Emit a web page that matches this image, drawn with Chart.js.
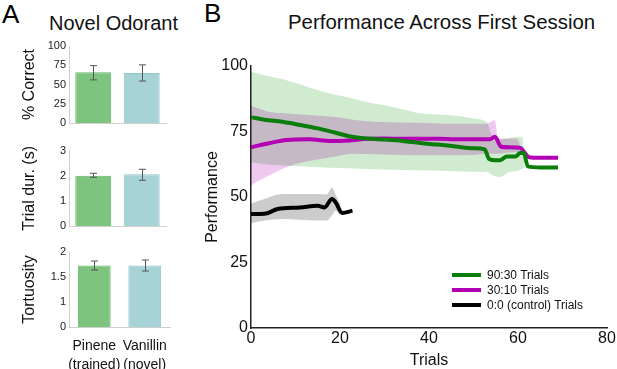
<!DOCTYPE html>
<html>
<head>
<meta charset="utf-8">
<script src="https://cdn.jsdelivr.net/npm/chart.js@4.4.0/dist/chart.umd.min.js"></script>
<style>
  body { margin: 0; width: 617px; height: 369px; position: relative; overflow: hidden; background: #fff;
         font-family: "Liberation Sans", Arial, sans-serif; color: #111; }
  .abs { position: absolute; white-space: nowrap; line-height: 1; }
  .panel { font-size: 26px; color: #000; }
  .title { font-size: 20px; color: #111; }
  .box { position: absolute; }
  #legend { position: absolute; left: 452px; top: 267px; font-size: 12px; color: #111; }
  #legend .row { height: 15px; display: flex; align-items: center; }
  #legend .swatch { width: 29px; height: 4px; margin-right: 6px; }
</style>
</head>
<body>
<div class="abs panel" style="left:2px; top:1px;">A</div>
<div class="abs title" style="left:49px; top:13px;">Novel Odorant</div>
<div class="abs panel" style="left:204px; top:0px;">B</div>
<div class="abs title" style="left:288px; top:12px; font-size:20.4px;">Performance Across First Session</div>

<div class="box" style="left:0; top:36px;"><canvas id="correctChart" width="172" height="100"></canvas></div>
<div class="box" style="left:0; top:140px;"><canvas id="durChart" width="172" height="100"></canvas></div>
<div class="box" style="left:0; top:242px;"><canvas id="tortChart" width="176" height="127"></canvas></div>
<div class="box" style="left:195px; top:40px;"><canvas id="perfChart" width="422" height="329"></canvas></div>
<div id="legend"></div>

<script>
// Panel A data
const odorants = [['Pinene', '(trained)'], ['Vanillin', '(novel)']];
const pctCorrect = [66, 65];
const pctCorrectLo = [56, 54.5];
const pctCorrectHi = [74.5, 75.5];
const trialDur = [2.0, 2.06];
const trialDurLo = [1.94, 1.82];
const trialDurHi = [2.1, 2.26];
const tortuosity = [1.73, 1.73];
const tortuosityLo = [1.64, 1.62];
const tortuosityHi = [1.82, 1.84];

// Panel B data
const seriesLabels = ['90:30 Trials', '30:10 Trials', '0:0 (control) Trials'];
const greenTrials = [0, 3, 7, 11, 15, 19, 22, 26, 30, 34, 38, 42, 46, 50, 52.5, 53.5, 55, 56, 57.5, 59.5, 60.5, 61.3, 62.2, 65, 69];
const greenMean = [80.5, 79.5, 78.7, 77.5, 76.2, 74.5, 73.2, 72.3, 71.9, 71.4, 70.6, 70, 69.3, 68.6, 68.2, 64.5, 64, 64, 65.5, 65.5, 66.8, 66.8, 61.7, 61.3, 61.3];
const magentaTrials = [0, 4, 8, 13, 18, 22, 26, 30, 34, 38, 42, 46, 50, 53.7, 54.8, 56.2, 58, 60.4, 62.5, 65, 69];
const magentaMean = [69, 70.5, 71.8, 72, 71.4, 71.6, 72.2, 72.3, 72.2, 72.2, 72.2, 72, 72, 72, 73, 69.2, 69, 68.8, 65.2, 65, 65];
const controlTrials = [0, 3, 6, 11, 15, 16.5, 18.2, 19, 20.5, 22.8];
const controlMean = [43.5, 43.6, 45.4, 46, 46.7, 46, 49.2, 48, 43.9, 44.8];

const greenBandTrials = [0, 3, 7, 12, 17.5, 22, 26, 30, 34, 38, 42, 46, 50, 53, 54, 56, 58, 60, 61, 61.5];
const greenUpper = [97.8, 96.5, 95, 92.5, 89.6, 88, 86.3, 85, 83.5, 82, 81.5, 81, 80, 78.5, 74, 72, 72.5, 73, 73, 62];
const greenLower = [63.4, 62.5, 62, 61.6, 61.2, 61, 60.7, 60.5, 60.3, 60.2, 60, 59.8, 59.6, 59.5, 58.5, 57.6, 59.5, 60, 60.8, 61];
const magentaBandTrials = [0, 1.5, 4, 9, 14, 19, 23, 28, 34, 38, 44, 50, 53, 54.8, 55.5, 58, 59.7, 60.4];
const magentaUpper = [84.7, 84, 82.5, 81.8, 81.2, 80.5, 79.5, 78.7, 78.4, 78.3, 78, 78, 78, 79.3, 72.3, 72.3, 72.3, 70.6];
const magentaLower = [54.4, 56, 58.2, 62, 64, 65.5, 66.5, 66.3, 66, 65.9, 65.9, 66, 66.5, 66.5, 66.5, 67, 67.2, 67.2];
const controlBandTrials = [0, 3, 7, 11, 15, 17, 18.2, 19, 20];
const controlUpper = [47.4, 49.2, 51.1, 51.1, 51.1, 51, 53.5, 51, 47.5];
const controlLower = [40, 41, 41.6, 41.3, 41, 41, 43, 44.8, 43];

const perfTicks = [0, 25, 50, 75, 100];
const trialTicks = [0, 20, 40, 60, 80];

Chart.defaults.font.family = '"Liberation Sans", Arial, sans-serif';
Chart.defaults.color = '#111';
Chart.defaults.animation = false;

const barColors = ['#7dc47f', '#a8d3d6'];
const barBorders = ['#66b369', '#93c4c8'];

// Error bars drawn from each dataset's errLo / errHi arrays
const errorBars = {
    id: 'errorBars',
    afterDatasetsDraw(chart) {
        const ctx = chart.ctx;
        const y = chart.scales.y;
        chart.data.datasets.forEach((ds, di) => {
            if (!ds.errLo) return;
            const meta = chart.getDatasetMeta(di);
            ctx.save();
            ctx.strokeStyle = '#555';
            ctx.lineWidth = 1;
            meta.data.forEach((bar, i) => {
                const top = y.getPixelForValue(ds.errHi[i]);
                const bot = y.getPixelForValue(ds.errLo[i]);
                const x = Math.round(bar.x) + 0.5;
                ctx.beginPath();
                ctx.moveTo(x, top); ctx.lineTo(x, bot);
                ctx.moveTo(x - 3.5, top); ctx.lineTo(x + 3.5, top);
                ctx.moveTo(x - 3.5, bot); ctx.lineTo(x + 3.5, bot);
                ctx.stroke();
            });
            ctx.restore();
        });
    }
};

function miniBarChart(id, values, lo, hi, yTitle, yScale, layout, showLabels, barPct) {
    const ctx = document.getElementById(id).getContext('2d');
    return new Chart(ctx, {
        type: 'bar',
        data: {
            labels: odorants,
            datasets: [{
                data: values,
                errLo: lo,
                errHi: hi,
                backgroundColor: barColors,
                borderColor: barBorders,
                borderWidth: 1,
                barPercentage: barPct,
                categoryPercentage: 1
            }]
        },
        options: {
            responsive: false,
            layout: { padding: layout },
            plugins: { legend: { display: false }, tooltip: { enabled: false } },
            scales: {
                x: {
                    grid: { display: false },
                    border: { display: true, color: '#cfcfcf', width: 1 },
                    ticks: {
                        display: showLabels,
                        font: { size: 14, lineHeight: 1.35 },
                        color: '#111',
                        padding: 2,
                        maxRotation: 0,
                        autoSkip: false
                    },
                    afterFit(scale) { scale.height = showLabels ? 42 : 0; }
                },
                y: Object.assign({
                    grid: { display: false, drawTicks: false },
                    border: { display: true, color: '#cfcfcf', width: 1 },
                    title: { display: true, text: yTitle, font: { size: 16 }, color: '#111', padding: { top: 20 } },
                    afterFit(scale) { scale.width = 69; }
                }, yScale)
            }
        },
        plugins: [errorBars]
    });
}

miniBarChart('correctChart', pctCorrect, pctCorrectLo, pctCorrectHi, '% Correct',
    { min: 0, max: 100, ticks: { stepSize: 25, font: { size: 11 }, color: '#222', padding: 3 } },
    { top: 10, bottom: 13, right: 6, left: 0 }, false, 0.74);

miniBarChart('durChart', trialDur, trialDurLo, trialDurHi, 'Trial dur. (s)',
    { min: 0, max: 3, ticks: { stepSize: 1, font: { size: 11 }, color: '#222', padding: 3 } },
    { top: 10.7, bottom: 14, right: 6, left: 0 }, false, 0.74);

// broken axis in the original: bottom tick is labelled 0
miniBarChart('tortChart', tortuosity, tortuosityLo, tortuosityHi, 'Tortuosity',
    { min: 0.5, max: 2, ticks: { stepSize: 0.5, font: { size: 11 }, color: '#222', padding: 3,
        callback: v => v === 0.5 ? '0' : v } },
    { top: 10, bottom: 0, right: 6, left: 0 }, true, 0.65);

// Panel B
function pts(xs, ys) {
    return xs.map((x, i) => ({ x: x, y: ys[i] }));
}

function meanLine(label, xs, ys, color) {
    return {
        label: label,
        data: pts(xs, ys),
        borderColor: color,
        backgroundColor: color,
        borderWidth: 4,
        pointRadius: 0,
        fill: false,
        cubicInterpolationMode: 'monotone',
        borderJoinStyle: 'round'
    };
}

function bandEdge(xs, ys, fillColor, isUpper) {
    return {
        label: '',
        data: pts(xs, ys),
        borderWidth: 0,
        borderColor: 'rgba(0,0,0,0)',
        backgroundColor: fillColor,
        pointRadius: 0,
        fill: isUpper ? '+1' : false,
        cubicInterpolationMode: 'monotone'
    };
}

const lineColors = ['#0b7d0b', '#b400b4', '#000000'];

// the shaded bands overlap like ink: multiply them, then draw the mean lines normally
const bandBlend = {
    id: 'bandBlend',
    beforeDatasetsDraw(chart) { chart.ctx.globalCompositeOperation = 'multiply'; },
    afterDatasetDraw(chart, args) {
        if (args.index === 3) chart.ctx.globalCompositeOperation = 'source-over';
    },
    afterDatasetsDraw(chart) { chart.ctx.globalCompositeOperation = 'source-over'; }
};

const perfChart = new Chart(document.getElementById('perfChart').getContext('2d'), {
    type: 'line',
    data: {
        datasets: [
            meanLine(seriesLabels[0], greenTrials, greenMean, lineColors[0]),
            meanLine(seriesLabels[1], magentaTrials, magentaMean, lineColors[1]),
            meanLine(seriesLabels[2], controlTrials, controlMean, lineColors[2]),
            bandEdge(controlBandTrials, controlUpper, 'rgba(0,0,0,0.2)', true),
            bandEdge(controlBandTrials, controlLower, 'rgba(0,0,0,0.2)', false),
            bandEdge(magentaBandTrials, magentaUpper, 'rgba(205,75,205,0.3)', true),
            bandEdge(magentaBandTrials, magentaLower, 'rgba(205,75,205,0.3)', false),
            bandEdge(greenBandTrials, greenUpper, 'rgba(100,190,100,0.3)', true),
            bandEdge(greenBandTrials, greenLower, 'rgba(100,190,100,0.3)', false)
        ]
    },
    options: {
        responsive: false,
        layout: { padding: { top: 26, right: 10, left: 0, bottom: 0 } },
        plugins: { legend: { display: false }, tooltip: { enabled: false } },
        scales: {
            x: {
                type: 'linear',
                min: trialTicks[0],
                max: trialTicks[trialTicks.length - 1],
                afterBuildTicks(scale) { scale.ticks = trialTicks.map(v => ({ value: v })); },
                grid: { display: false, drawTicks: false },
                border: { display: true, color: '#222', width: 1.5 },
                ticks: { font: { size: 16 }, color: '#111', padding: 1 },
                title: { display: true, text: 'Trials', font: { size: 16, lineHeight: 1 }, color: '#111', padding: 0 },
                afterFit(scale) { scale.height = 41; }
            },
            y: {
                min: perfTicks[0],
                max: perfTicks[perfTicks.length - 1],
                afterBuildTicks(scale) { scale.ticks = perfTicks.map(v => ({ value: v })); },
                grid: { display: false, drawTicks: false },
                border: { display: true, color: '#222', width: 1.5 },
                ticks: { font: { size: 16 }, color: '#111', padding: 3 },
                title: { display: true, text: 'Performance', font: { size: 16 }, color: '#111', padding: { top: 8 } },
                afterFit(scale) { scale.width = 56; }
            }
        }
    },
    plugins: [bandBlend]
});

// Legend built from the three mean-line datasets
const legend = document.getElementById('legend');
perfChart.data.datasets.slice(0, 3).forEach(ds => {
    const row = document.createElement('div');
    row.className = 'row';
    row.innerHTML = '<span class="swatch" style="background:' + ds.borderColor + '"></span>' + ds.label;
    legend.appendChild(row);
});
</script>
</body>
</html>
